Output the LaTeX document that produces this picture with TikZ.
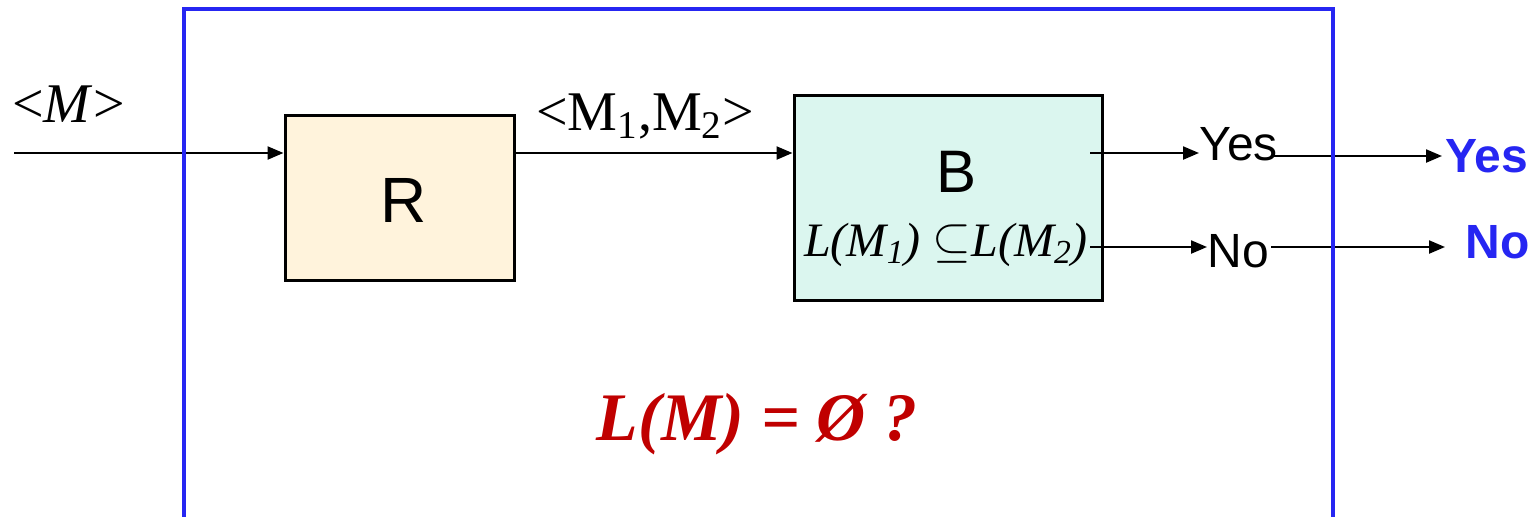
\documentclass[tikz,border=0pt]{standalone}
\usepackage{fontspec}
\setmainfont{Liberation Serif}
\setsansfont{Liberation Sans}
\usetikzlibrary{arrows.meta,positioning}
\definecolor{framecol}{HTML}{2626F2}
\definecolor{rfill}{HTML}{FFF3DC}
\definecolor{bfill}{HTML}{DBF6EF}
\definecolor{askcol}{HTML}{C00000}
\tikzset{
  blockbox/.style={draw=black,line width=1.5pt,inner sep=0pt},
  flow/.style={line width=1.1pt,-{Triangle[length=8pt,width=6.5pt]}},
  txt/.style={inner sep=0pt,font=\fontsize{#1}{#1}\selectfont},
  sanstxt/.style={inner sep=0pt,font=\sffamily\fontsize{#1}{#1}\selectfont},
  answer/.style={inner sep=0pt,text=framecol,font=\sffamily\bfseries\fontsize{24pt}{24pt}\selectfont}
}
\begin{document}
\begin{tikzpicture}[x=0.5pt,y=-0.5pt]
\useasboundingbox (0,0) rectangle (1536,516);
% boxes
\node[blockbox,fill=rfill,minimum width=114.5pt,minimum height=82.5pt] (rbox) at (399.5,197.5) {};
\node[blockbox,fill=bfill,minimum width=154pt,minimum height=102.5pt] (bbox) at (948,197.5) {};
\node[sanstxt=32pt,anchor=base] (rname) at (404,222) {R};
\node[sanstxt=30pt,anchor=base] (bname) at (956,192) {B};
\node[txt=24pt,anchor=base] (bcond) at (946,256) {\textit{L(M\textsubscript{1}) $\subseteq$L(M\textsubscript{2})}};
% input
\coordinate (in) at (14,153);
\node[txt=28pt,anchor=base west] (inlabel) at (12,122) {<\textit{M}>};
\draw[flow] (in) -- (in -| rbox.west);
\draw[flow] (in -| rbox.east) -- (in -| bbox.west);
\node[txt=28pt,anchor=base] (pairlabel) at (645,130) {<M\textsubscript{1},M\textsubscript{2}>};
% outputs of B
\node[sanstxt=24pt,anchor=base west] (yesin) at (1199,160) {Yes};
\node[sanstxt=24pt,anchor=base west] (noin) at (1207,267) {No};
\node[answer,anchor=base west] (yesout) at (1445,172) {Yes};
\node[answer,anchor=base west] (noout) at (1465,258) {No};
\coordinate (yesstart) at (1090,153);
\coordinate (nostart) at (1090,247);
\coordinate (yesline) at (0,156);
\coordinate (noend) at (1445,247);
\draw[flow] (yesstart) -- (yesstart -| yesin.west);
\draw[flow] (nostart) -- (nostart -| noin.west);
\draw[flow] ([xshift=-3pt]yesin.east |- yesline) -- ([xshift=-1.5pt]yesout.west |- yesline);
\draw[flow] ([xshift=1pt]noin.east |- nostart) -- (noend);
% question
\node[txt=34pt,text=askcol,anchor=base] (question) at (757,440) {\textbf{\textit{L(M) = Ø ?}}};
% frame
\draw[framecol,line width=2pt] (184,530) -- (184,9) -- (1333,9) -- (1333,530);
\end{tikzpicture}
\end{document}
